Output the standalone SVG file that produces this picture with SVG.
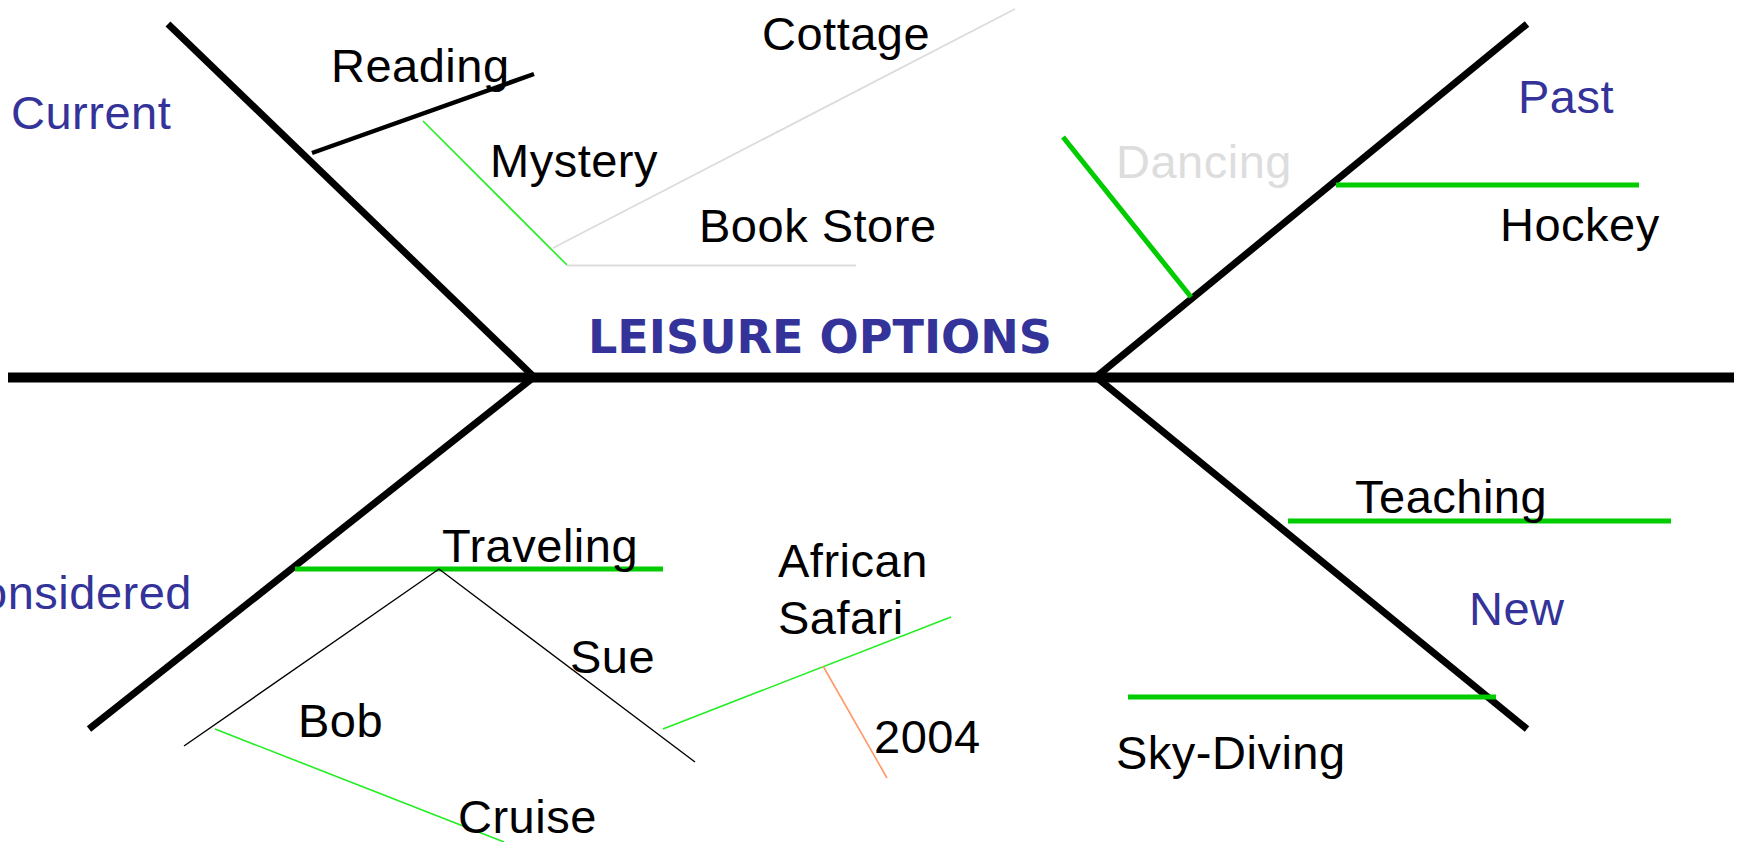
<svg xmlns="http://www.w3.org/2000/svg" width="1740" height="842" viewBox="0 0 1740 842">
<style>
.t{font-family:"Liberation Sans",Arial,sans-serif;font-size:47px;letter-spacing:0.5px;fill:#000}
.c{fill:#333399}
.g{fill:#dddddd}
.bone{stroke:#000;stroke-width:7;fill:none}
.spine{stroke:#000;stroke-width:10;fill:none}
.gk{stroke:#00cc00;stroke-width:5;fill:none}
.gt{stroke:#22ee22;stroke-width:1.6;fill:none}
.gr{stroke:#dcdcdc;stroke-width:1.8;fill:none}
.bk{stroke:#000;stroke-width:1.4;fill:none}
.title{font-family:"DejaVu Sans",sans-serif;font-weight:bold;font-size:47px;fill:#333399}
</style>
<rect width="1740" height="842" fill="#fff"/>
<g id="connectors">
<line class="spine" x1="8" y1="377.5" x2="1734" y2="377.5"/>
<line class="bone" x1="168" y1="24" x2="534" y2="377"/>
<line class="bone" x1="534" y1="377" x2="89" y2="729"/>
<line class="bone" x1="1096" y1="377" x2="1527" y2="24"/>
<line class="bone" x1="1096" y1="377" x2="1527" y2="729"/>
<line x1="312" y1="153" x2="534" y2="74" stroke="#000" stroke-width="4.5"/>
<line class="gt" x1="423" y1="121" x2="567" y2="265"/>
<line class="gr" x1="553" y1="248" x2="1015" y2="9"/>
<line class="gr" x1="567" y1="265.5" x2="856" y2="265.5"/>
<line class="gk" x1="1063" y1="137" x2="1191" y2="297"/>
<line class="gk" x1="1336" y1="185" x2="1639" y2="185"/>
<line class="gk" x1="295" y1="569" x2="663" y2="569" stroke-width="6"/>
<polyline class="bk" points="184,746 439,569 695,762"/>
<line class="gt" x1="215" y1="729" x2="504" y2="842"/>
<line class="gt" x1="663" y1="729" x2="951" y2="617"/>
<line x1="823" y1="666" x2="887" y2="778" stroke="#ff9966" stroke-width="1.6"/>
<line class="gk" x1="1288" y1="521" x2="1671" y2="521"/>
<line class="gk" x1="1128" y1="697" x2="1496" y2="697"/>
</g>
<g id="title"><text class="title" x="588" y="353" textLength="464" lengthAdjust="spacingAndGlyphs">LEISURE OPTIONS</text></g>
<g id="current"><text class="t c" x="11" y="129">Current</text></g>
<g id="past"><text class="t c" x="1518" y="113">Past</text></g>
<g id="considered"><text class="t c" x="192" y="609" text-anchor="end">Considered</text></g>
<g id="new"><text class="t c" x="1469" y="625">New</text></g>
<g id="reading"><text class="t" x="331" y="82">Reading</text></g>
<g id="cottage"><text class="t" x="762" y="50">Cottage</text></g>
<g id="mystery"><text class="t" x="490" y="177">Mystery</text></g>
<g id="bookstore"><text class="t" x="699" y="242">Book Store</text></g>
<g id="dancing"><text class="t g" x="1116" y="178">Dancing</text></g>
<g id="hockey"><text class="t" x="1500" y="241">Hockey</text></g>
<g id="traveling"><text class="t" x="442" y="562">Traveling</text></g>
<g id="bob"><text class="t" x="298" y="737">Bob</text></g>
<g id="sue"><text class="t" x="570" y="673">Sue</text></g>
<g id="cruise"><text class="t" x="458" y="833">Cruise</text></g>
<g id="safari"><text class="t" x="778" y="577">African</text><text class="t" x="778" y="634">Safari</text></g>
<g id="y2004"><text class="t" x="874" y="753">2004</text></g>
<g id="teaching"><text class="t" x="1355" y="513">Teaching</text></g>
<g id="skydiving"><text class="t" x="1116" y="769">Sky-Diving</text></g>
</svg>
